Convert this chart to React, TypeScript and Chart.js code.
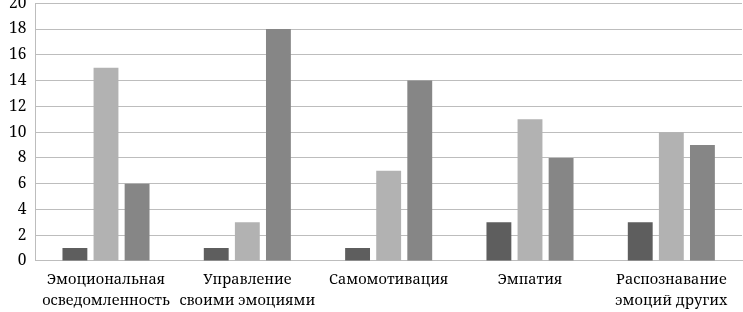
import React, { useEffect, useRef } from "react";
import { Chart, registerables } from "chart.js";

Chart.register(...registerables);

const categories: (string | string[])[] = [
  ["Эмоциональная", "осведомленность"],
  ["Управление", "своими эмоциями"],
  "Самомотивация",
  "Эмпатия",
  ["Распознавание", "эмоций других"],
];
const series1 = [1, 1, 1, 3, 3];
const series2 = [15, 3, 7, 11, 10];
const series3 = [6, 18, 14, 8, 9];
const yTicksMax = 20;
const yStep = 2;

export default function App() {
  const ref = useRef<HTMLCanvasElement>(null);
  useEffect(() => {
    document.body.style.margin = "0";
    const fam = '"Noto Serif", "DejaVu Serif", serif';
    Chart.defaults.font.family = fam;
    const chart = new Chart(ref.current!, {
      type: "bar",
      data: {
        labels: categories,
        datasets: [
          { label: "1", data: series1, backgroundColor: "#5e5e5e" },
          { label: "2", data: series2, backgroundColor: "#b2b2b2" },
          { label: "3", data: series3, backgroundColor: "#868686" },
        ],
      },
      options: {
        animation: false,
        responsive: false,
        maintainAspectRatio: false,
        datasets: { bar: { categoryPercentage: 0.66, barPercentage: 0.8 } },
        layout: { padding: { top: 0, right: 1, left: 0, bottom: 0 } },
        plugins: { legend: { display: false }, tooltip: { enabled: false } },
        scales: {
          x: {
            grid: { display: false, drawTicks: false },
            border: { display: true, color: "#bdbdbd", width: 1 },
            ticks: {
              color: "#000",
              font: { family: fam, size: 14.5, lineHeight: 1.45 },
              padding: 8,
              maxRotation: 0,
              autoSkip: false,
            },
          },
          y: {
            min: 0,
            max: yTicksMax,
            grid: { color: "#bdbdbd", drawTicks: false },
            border: { display: true, color: "#bdbdbd", width: 1 },
            ticks: { stepSize: yStep, color: "#000", font: { family: fam, size: 15.5 }, padding: 9, autoSkip: false },
          },
        },
      },
    });
    return () => chart.destroy();
  }, []);
  return (
    <div style={{ width: 743, height: 312, background: "#fff", overflow: "hidden", position: "relative" }}>
      <canvas
        ref={ref}
        width={743}
        height={334}
        style={{ display: "block", position: "absolute", top: -15, left: 0 }}
      />
    </div>
  );
}
